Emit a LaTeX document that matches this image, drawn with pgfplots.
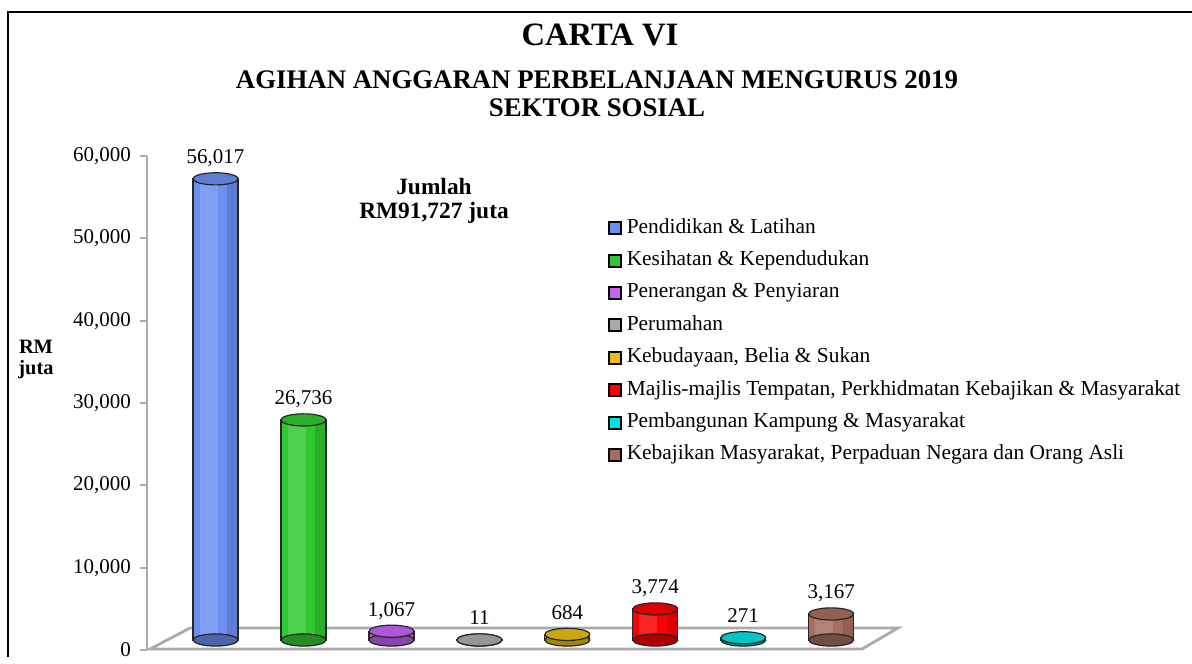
\documentclass[border=0pt]{standalone}
\usepackage{pgfplots}
\pgfplotsset{compat=1.18}
\usepackage{fontspec}
\setmainfont{Liberation Serif}

\definecolor{cBlue}{RGB}{108,143,242}
\definecolor{cGreen}{RGB}{50,200,50}
\definecolor{cPurple}{RGB}{195,100,245}
\definecolor{cGray}{RGB}{170,170,170}
\definecolor{cGold}{RGB}{232,190,20}
\definecolor{cRed}{RGB}{250,0,0}
\definecolor{cCyan}{RGB}{0,225,225}
\definecolor{cBrown}{RGB}{165,110,95}
\definecolor{floorgray}{RGB}{170,170,170}

% one cylinder: x position, value, colour, legend text
\newcommand{\cyl}[4]{%
  \addplot[only marks, mark=*, mark size=11.25pt, forget plot, yshift=5pt,
    mark options={yscale=0.27, draw=black!85, fill=#3!70!black, line width=0.6pt}]
    coordinates {(#1,0)};
  \addplot[ybar, bar width=22.5pt, bar shift=0pt, draw=black!85, line width=0.6pt,
    fill=#3, yshift=5pt,
    legend image code/.code={\draw[yshift=-5pt, fill=#3, draw=black, line width=1pt] (0pt,-3pt) rectangle (6pt,3pt);}]
    coordinates {(#1,#2)};
  \addlegendentry{#4}
  \addplot[ybar, bar width=9pt, bar shift=-3.5pt, draw=none, fill=white, fill opacity=0.14,
    forget plot, yshift=5pt] coordinates {(#1,#2)};
  \addplot[ybar, bar width=5pt, bar shift=8.3pt, draw=none, fill=black, fill opacity=0.12,
    forget plot, yshift=5pt] coordinates {(#1,#2)};
  \addplot[only marks, mark=*, mark size=11.25pt, forget plot, yshift=5pt,
    mark options={yscale=0.27, rotate=4, draw=black!85, fill=#3!88!black, line width=0.6pt},
    nodes near coords]
    coordinates {(#1,#2)};
}

\begin{document}
\begin{tikzpicture}
\begin{scope}[x=0.5pt, y=-0.5pt]
  \path[use as bounding box] (0,0) rectangle (1192,657);
  \draw[line width=1.2pt] (8,657) -- (8,12) -- (1192,12);
  \node[font=\bfseries\fontsize{16.3}{18}\selectfont] at (600,35) {CARTA VI};
  \node[font=\bfseries\fontsize{13.4}{15}\selectfont] at (597,80) {AGIHAN ANGGARAN PERBELANJAAN MENGURUS 2019};
  \node[font=\bfseries\fontsize{13.4}{15}\selectfont] at (597,108) {SEKTOR SOSIAL};
  \node[font=\bfseries\fontsize{11.7}{14}\selectfont] at (434,187) {Jumlah};
  \node[font=\bfseries\fontsize{11.7}{14}\selectfont] at (434,213) {RM91,727 juta};
  \node[font=\bfseries\fontsize{10.2}{12}\selectfont] at (36,347) {RM};
  \node[font=\bfseries\fontsize{10.2}{12}\selectfont] at (36,370) {juta};
  % floor
  \draw[floorgray, line width=1.4pt, fill=white] (150,649) -- (862,649) -- (898,628) -- (190,628) -- cycle;
\end{scope}

\begin{axis}[
    at={(73.5pt,-325pt)}, anchor=south west,
    scale only axis,
    width=375.5pt, height=247pt,
    xmin=-0.78, xmax=7.76,
    ymin=0, ymax=60000,
    clip=false,
    axis x line=none,
    axis y line*=left,
    y axis line style={floorgray, line width=1pt},
    ytick={0,10000,...,60000},
    ytick style={floorgray, line width=1pt},
    tick align=outside,
    major tick length=3.5pt,
    scaled y ticks=false,
    /pgf/number format/.cd, fixed, precision=0, 1000 sep={,}, assume math mode=true,
    /pgfplots/.cd,
    yticklabel style={font=\fontsize{10.5}{12}\selectfont, xshift=-1pt},
    every node near coord/.append style={font=\fontsize{10.5}{12}\selectfont, anchor=base, yshift=7.5pt},
    legend cell align=left,
    legend style={at={(0.613,0.877)}, anchor=north west, draw=none, fill=none,
      inner sep=0pt, row sep=5.2pt, column sep=2.5pt,
      font=\fontsize{10.7}{12}\selectfont,
      nodes={inner sep=0pt, text height=8pt, text depth=3pt}},
]
\cyl{0}{56017}{cBlue}{Pendidikan \& Latihan}
\cyl{1}{26736}{cGreen}{Kesihatan \& Kependudukan}
\cyl{2}{1067}{cPurple}{Penerangan \& Penyiaran}
\cyl{3}{11}{cGray}{Perumahan}
\cyl{4}{684}{cGold}{Kebudayaan, Belia \& Sukan}
\cyl{5}{3774}{cRed}{Majlis-majlis Tempatan, Perkhidmatan Kebajikan \& Masyarakat}
\cyl{6}{271}{cCyan}{Pembangunan Kampung \& Masyarakat}
\cyl{7}{3167}{cBrown}{Kebajikan Masyarakat, Perpaduan Negara dan Orang Asli}
\end{axis}
\end{tikzpicture}
\end{document}
